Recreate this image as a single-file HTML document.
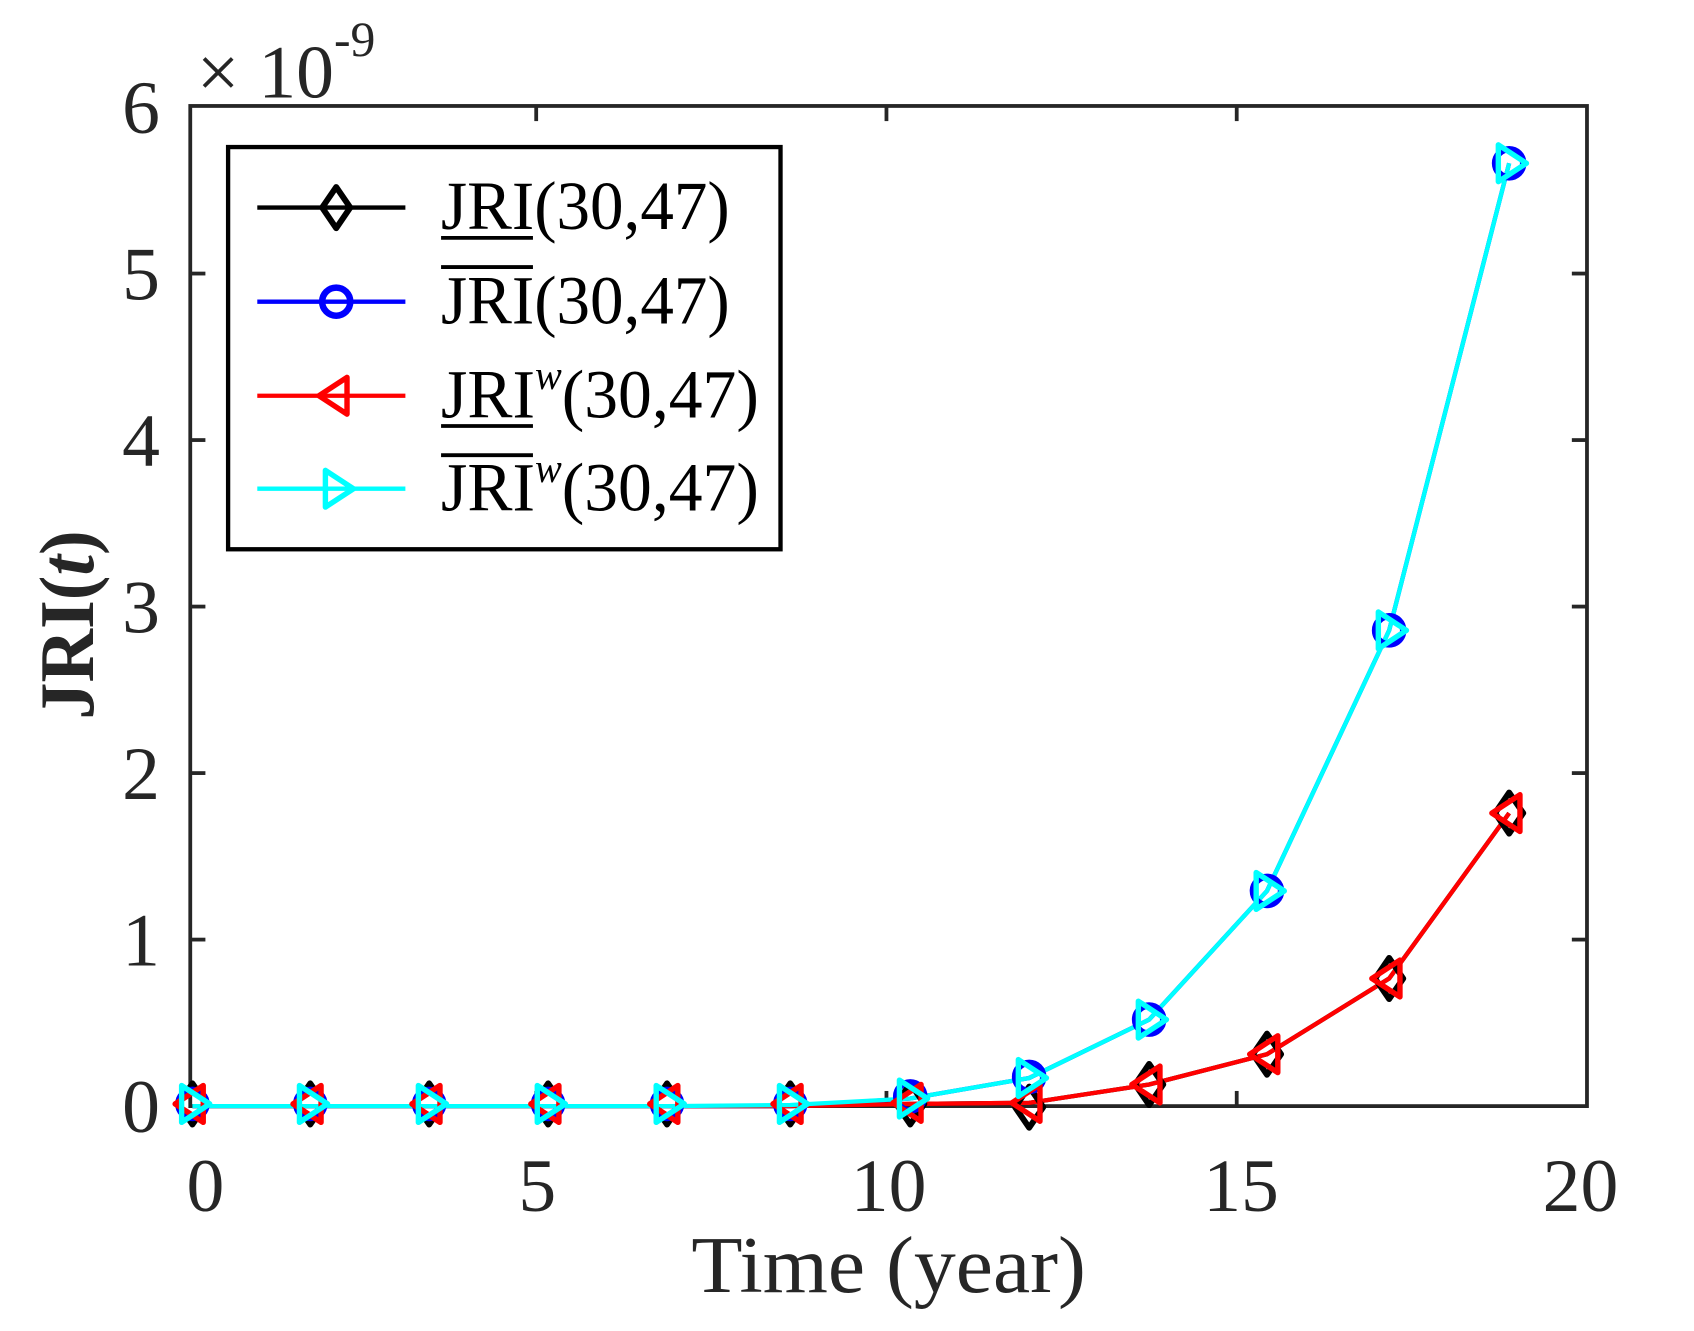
<!DOCTYPE html>
<html><head><meta charset="utf-8"><style>html,body{margin:0;padding:0;background:#fff}svg{display:block}</style></head>
<body>
<svg width="1694" height="1331" viewBox="0 0 1567 1231" preserveAspectRatio="none" xmlns="http://www.w3.org/2000/svg" font-family="Liberation Serif, serif" fill="#262626">
<defs>
<g id="dia"><path d="M0,-19 L13,0 L0,19 L-13,0 Z" fill="none" stroke="#000" stroke-width="5.5" stroke-linejoin="round"/></g>
<g id="cir"><circle r="13" fill="none" stroke="#0000ff" stroke-width="6"/></g>
<g id="tl"><path d="M-16,0 L10,-17 L10,17 Z" fill="none" stroke="#ff0000" stroke-width="5" stroke-linejoin="round"/></g>
<g id="tr"><path d="M16,0 L-10,-17 L-10,17 Z" fill="none" stroke="#00ffff" stroke-width="5" stroke-linejoin="round"/></g>
</defs>
<rect x="176" y="98" width="1292" height="925" fill="none" stroke="#262626" stroke-width="3.5"/>
<g stroke="#262626" stroke-width="3.5">
<line x1="176" y1="869" x2="190" y2="869"/><line x1="176" y1="715" x2="190" y2="715"/><line x1="176" y1="561" x2="190" y2="561"/><line x1="176" y1="407" x2="190" y2="407"/><line x1="176" y1="253" x2="190" y2="253"/>
<line x1="1468" y1="869" x2="1454" y2="869"/><line x1="1468" y1="715" x2="1454" y2="715"/><line x1="1468" y1="561" x2="1454" y2="561"/><line x1="1468" y1="407" x2="1454" y2="407"/><line x1="1468" y1="253" x2="1454" y2="253"/>
<line x1="496" y1="1023" x2="496" y2="1009"/><line x1="820" y1="1023" x2="820" y2="1009"/><line x1="1144" y1="1023" x2="1144" y2="1009"/>
<line x1="496" y1="98" x2="496" y2="112"/><line x1="820" y1="98" x2="820" y2="112"/><line x1="1144" y1="98" x2="1144" y2="112"/>
</g>
<g font-size="70" text-anchor="end">
<text x="148" y="123">6</text><text x="148" y="277">5</text><text x="148" y="431">4</text><text x="148" y="585">3</text><text x="148" y="739">2</text><text x="148" y="893">1</text><text x="148" y="1047">0</text>
</g>
<g font-size="70" text-anchor="middle">
<text x="190" y="1120">0</text><text x="497" y="1120">5</text><text x="822" y="1120">10</text><text x="1148" y="1120">15</text><text x="1462" y="1120">20</text>
</g>
<text x="822" y="1195" font-size="74" text-anchor="middle" textLength="365" lengthAdjust="spacingAndGlyphs">Time (year)</text>
<text transform="translate(86,578) rotate(-90)" font-size="72" text-anchor="middle" font-weight="bold" textLength="175" lengthAdjust="spacingAndGlyphs">JRI(<tspan font-style="italic">t</tspan>)</text>
<text x="182" y="90" font-size="70">× 10<tspan dy="-38" font-size="46">-9</tspan></text>
<polyline fill="none" stroke="#000" stroke-width="4" points="178,1023 287,1023 397,1023 507,1023 617,1023 731,1023 842,1021 952,1020 1063,1003 1172,975 1285,905 1396,752"/>
<polyline fill="none" stroke="#0000ff" stroke-width="4" points="178,1023 287,1023 397,1023 507,1023 617,1023 731,1023 842,1016 952,997 1063,943 1172,824 1285,583 1396,151"/>
<polyline fill="none" stroke="#ff0000" stroke-width="4" points="178,1023 287,1023 397,1023 507,1023 617,1023 731,1023 842,1021 952,1020 1063,1003 1172,975 1285,905 1396,752"/>
<polyline fill="none" stroke="#00ffff" stroke-width="4" points="178,1023 287,1023 397,1023 507,1023 617,1023 731,1022 842,1016 952,997 1063,943 1172,824 1285,583 1396,151"/>
<g>
<use href="#dia" x="178" y="1021"/><use href="#dia" x="287" y="1021"/><use href="#dia" x="397" y="1021"/><use href="#dia" x="507" y="1021"/><use href="#dia" x="617" y="1021"/><use href="#dia" x="731" y="1021"/><use href="#dia" x="842" y="1021"/><use href="#dia" x="952" y="1024"/><use href="#dia" x="1063" y="1003"/><use href="#dia" x="1172" y="975"/><use href="#dia" x="1285" y="905"/><use href="#dia" x="1396" y="752"/>
<use href="#cir" x="178" y="1021"/><use href="#cir" x="287" y="1021"/><use href="#cir" x="397" y="1021"/><use href="#cir" x="507" y="1021"/><use href="#cir" x="617" y="1021"/><use href="#cir" x="731" y="1021"/><use href="#cir" x="842" y="1014"/><use href="#cir" x="952" y="996"/><use href="#cir" x="1063" y="943"/><use href="#cir" x="1172" y="824"/><use href="#cir" x="1285" y="583"/><use href="#cir" x="1396" y="151"/>
<use href="#tl" x="178" y="1021"/><use href="#tl" x="287" y="1021"/><use href="#tl" x="397" y="1021"/><use href="#tl" x="507" y="1021"/><use href="#tl" x="617" y="1021"/><use href="#tl" x="731" y="1021"/><use href="#tl" x="842" y="1020"/><use href="#tl" x="952" y="1020"/><use href="#tl" x="1063" y="1003"/><use href="#tl" x="1172" y="975"/><use href="#tl" x="1285" y="905"/><use href="#tl" x="1396" y="752"/>
<use href="#tr" x="178" y="1021"/><use href="#tr" x="287" y="1021"/><use href="#tr" x="397" y="1021"/><use href="#tr" x="507" y="1021"/><use href="#tr" x="617" y="1021"/><use href="#tr" x="731" y="1021"/><use href="#tr" x="842" y="1016"/><use href="#tr" x="952" y="997"/><use href="#tr" x="1063" y="943"/><use href="#tr" x="1172" y="824"/><use href="#tr" x="1285" y="583"/><use href="#tr" x="1396" y="151"/>
</g>
<rect x="211" y="136" width="511" height="372" fill="#fff" stroke="#000" stroke-width="4"/>
<line x1="238" y1="192" x2="375" y2="192" stroke="#000" stroke-width="4"/><use href="#dia" x="311" y="192"/>
<line x1="238" y1="279" x2="375" y2="279" stroke="#0000ff" stroke-width="4"/><use href="#cir" x="311" y="279"/>
<line x1="238" y1="366" x2="375" y2="366" stroke="#ff0000" stroke-width="4"/><use href="#tl" x="311" y="366"/>
<line x1="238" y1="452" x2="375" y2="452" stroke="#00ffff" stroke-width="4"/><use href="#tr" x="311" y="452"/>
<g font-size="64" fill="#000">
<text x="408" y="212" textLength="267" lengthAdjust="spacingAndGlyphs">JRI(30,47)</text>
<line x1="408" y1="220" x2="493" y2="220" stroke="#000" stroke-width="3.5"/>
<text x="408" y="299" textLength="267" lengthAdjust="spacingAndGlyphs">JRI(30,47)</text>
<line x1="408" y1="247" x2="493" y2="247" stroke="#000" stroke-width="3.5"/>
<text x="408" y="386" textLength="294" lengthAdjust="spacingAndGlyphs">JRI<tspan dy="-26" font-size="38" font-style="italic">w</tspan><tspan dy="26">(30,47)</tspan></text>
<line x1="408" y1="394" x2="493" y2="394" stroke="#000" stroke-width="3.5"/>
<text x="408" y="472" textLength="294" lengthAdjust="spacingAndGlyphs">JRI<tspan dy="-26" font-size="38" font-style="italic">w</tspan><tspan dy="26">(30,47)</tspan></text>
<line x1="408" y1="421" x2="493" y2="421" stroke="#000" stroke-width="3.5"/>
</g>
</svg>
</body></html>
